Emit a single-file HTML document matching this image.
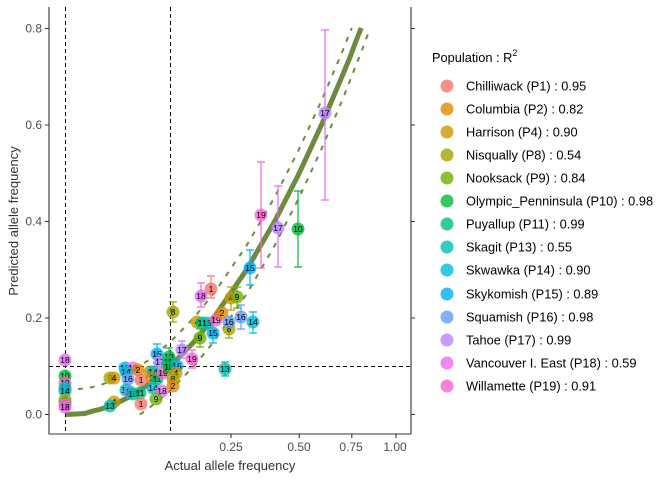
<!DOCTYPE html>
<html><head><meta charset="utf-8"><style>
body{margin:0;background:#fff;}
svg{display:block;font-family:"Liberation Sans",sans-serif;}
.pt circle{fill-opacity:.8;}
.pt text{font-size:8.5px;fill:#000;text-anchor:middle;dominant-baseline:central;}
.tk{font-size:12px;fill:#4d4d4d;}
.lg{font-size:12.8px;fill:#000;}
</style></head><body>
<svg width="672" height="480" viewBox="0 0 672 480">
<g stroke="#000" stroke-width="1" stroke-dasharray="4,3">
<line x1="65.5" y1="7" x2="65.5" y2="434"/>
<line x1="170.5" y1="7" x2="170.5" y2="434"/>
<line x1="49" y1="366.5" x2="411" y2="366.5"/>
</g>
<polyline fill="none" stroke="#6e8b3d" stroke-width="5" stroke-linejoin="round" points="66,414.5 76.4,414 84.8,413.5 89.3,412.1 94.3,410.6 99,409.7 106,407.4 112.7,404.8 118.2,402.4 123.2,400 128,397.6 132,395.2 139.8,390.3 146.8,385.5 159.3,375.9 170.4,366.2 193.8,342 213.6,317.9 246.7,269.6 274.7,221.3 299.3,173 321.6,124.6 342.1,76.3 350.5,56 356,41 361.2,28"/>
<g fill="none" stroke="#6e8b3d" stroke-width="2" stroke-dasharray="5,7">
<polyline points="66,390.3 89.3,387.9 99,385.5 112.7,380.6 132,371 146.8,361.3 170.4,342 193.8,317.8 213.6,293.7 246.7,245.4 274.7,197.1 299.3,148.8 321.6,100.4 342.1,52.1 351.8,28"/>
<polyline points="139.8,414.5 146.8,409.7 159.3,400 170.4,390.4 193.8,366.2 213.6,342.1 246.7,293.8 274.7,245.5 299.3,197.2 321.6,148.8 342.1,100.5 361.2,52.2 370.2,28"/>
</g>
<g stroke-width="1.2" fill="none">
<path stroke="#E76BF3" d="M325,30V200M321,30h8M321,200h8"/>
<path stroke="#FD61D1" d="M261,162V268M257,162h8M257,268h8"/>
<path stroke="#E76BF3" d="M278,186V267M274,186h8M274,267h8"/>
<path stroke="#00BA38" d="M298,191V267M294,191h8M294,267h8"/>
<path stroke="#00B0F6" d="M250,250V285M246,250h8M246,285h8"/>
<path stroke="#F8766D" d="M211,276V298M207,276h8M207,298h8"/>
<path stroke="#FD61D1" d="M201,283V307M197,283h8M197,307h8"/>
<path stroke="#A3A500" d="M173,302V322M169,302h8M169,322h8"/>
<path stroke="#C99800" d="M231,287V310M227,287h8M227,310h8"/>
<path stroke="#6BB100" d="M237,287V308M233,287h8M233,308h8"/>
<path stroke="#619CFF" d="M241,305V329M237,305h8M237,329h8"/>
<path stroke="#00BCD8" d="M253,312V333M249,312h8M249,333h8"/>
<path stroke="#A3A500" d="M229,320V338M225,320h8M225,338h8"/>
<path stroke="#00B0F6" d="M213,323V343M209,323h8M209,343h8"/>
<path stroke="#6BB100" d="M200,329V347M196,329h8M196,347h8"/>
<path stroke="#B983FF" d="M182,341V358M178,341h8M178,358h8"/>
<path stroke="#FD61D1" d="M192,350V368M188,350h8M188,368h8"/>
<path stroke="#00B0F6" d="M157,344V363M153,344h8M153,363h8"/>
<path stroke="#00BA38" d="M169,348V366M165,348h8M165,366h8"/>
<path stroke="#00C0AF" d="M225,362V376M221,362h8M221,376h8"/>
</g>
<g class="pt">
<g><circle cx="65" cy="360" r="6.5" fill="#E76BF3"/><text x="65" y="360">18</text></g>
<g><circle cx="65" cy="376" r="6.5" fill="#00BA38"/><text x="65" y="376">10</text></g>
<g><circle cx="65" cy="383" r="6.5" fill="#FD61D1"/><text x="65" y="383">19</text></g>
<g><circle cx="65" cy="388" r="6.5" fill="#00C0AF"/><text x="65" y="388">13</text></g>
<g><circle cx="65" cy="391" r="6.5" fill="#00BCD8"/><text x="65" y="391">14</text></g>
<g><circle cx="65" cy="400" r="6.5" fill="#A3A500"/><text x="65" y="400">8</text></g>
<g><circle cx="65" cy="403" r="6.5" fill="#6BB100"/><text x="65" y="403">9</text></g>
<g><circle cx="65" cy="405" r="6.5" fill="#FD61D1"/><text x="65" y="405">19</text></g>
<g><circle cx="65" cy="407" r="6.5" fill="#E76BF3"/><text x="65" y="407">18</text></g>
<g><circle cx="110" cy="378" r="6.5" fill="#A3A500"/><text x="110" y="378">9</text></g>
<g><circle cx="114" cy="378" r="6.5" fill="#C99800"/><text x="114" y="378">4</text></g>
<g><circle cx="114" cy="402" r="6.5" fill="#C99800"/><text x="114" y="402">4</text></g>
<g><circle cx="110" cy="406" r="6.5" fill="#00C0AF"/><text x="110" y="406">13</text></g>
<g><circle cx="125" cy="368" r="6.5" fill="#00B0F6"/><text x="125" y="368">15</text></g>
<g><circle cx="133" cy="368" r="6.5" fill="#E76BF3"/><text x="133" y="368">18</text></g>
<g><circle cx="138" cy="370" r="6.5" fill="#E58700"/><text x="138" y="370">2</text></g>
<g><circle cx="126" cy="372" r="6.5" fill="#00BCD8"/><text x="126" y="372">14</text></g>
<g><circle cx="128" cy="379" r="6.5" fill="#619CFF"/><text x="128" y="379">16</text></g>
<g><circle cx="141" cy="380" r="6.5" fill="#F8766D"/><text x="141" y="380">1</text></g>
<g><circle cx="126" cy="390" r="6.5" fill="#00C0AF"/><text x="126" y="390">13</text></g>
<g><circle cx="130" cy="392" r="6.5" fill="#619CFF"/><text x="130" y="392">16</text></g>
<g><circle cx="133" cy="394" r="6.5" fill="#00C0AF"/><text x="133" y="394">13</text></g>
<g><circle cx="140" cy="393" r="6.5" fill="#00BF7D"/><text x="140" y="393">11</text></g>
<g><circle cx="141" cy="404" r="6.5" fill="#F8766D"/><text x="141" y="404">1</text></g>
<g><circle cx="150" cy="372" r="6.5" fill="#C99800"/><text x="150" y="372">4</text></g>
<g><circle cx="153" cy="372" r="6.5" fill="#00BCD8"/><text x="153" y="372">14</text></g>
<g><circle cx="152" cy="378" r="6.5" fill="#E58700"/><text x="152" y="378">2</text></g>
<g><circle cx="157" cy="379" r="6.5" fill="#00BF7D"/><text x="157" y="379">11</text></g>
<g><circle cx="163" cy="373" r="6.5" fill="#FD61D1"/><text x="163" y="373">19</text></g>
<g><circle cx="157" cy="354" r="6.5" fill="#00B0F6"/><text x="157" y="354">15</text></g>
<g><circle cx="160" cy="362" r="6.5" fill="#B983FF"/><text x="160" y="362">17</text></g>
<g><circle cx="153" cy="388" r="6.5" fill="#00BCD8"/><text x="153" y="388">14</text></g>
<g><circle cx="162" cy="391" r="6.5" fill="#E76BF3"/><text x="162" y="391">18</text></g>
<g><circle cx="156" cy="399" r="6.5" fill="#6BB100"/><text x="156" y="399">9</text></g>
<g><circle cx="169" cy="357" r="6.5" fill="#00BA38"/><text x="169" y="357">19</text></g>
<g><circle cx="168" cy="362" r="6.5" fill="#00BF7D"/><text x="168" y="362">11</text></g>
<g><circle cx="169" cy="367" r="6.5" fill="#00BA38"/><text x="169" y="367">10</text></g>
<g><circle cx="177" cy="366" r="6.5" fill="#00B0F6"/><text x="177" y="366">15</text></g>
<g><circle cx="176" cy="373" r="6.5" fill="#C99800"/><text x="176" y="373">4</text></g>
<g><circle cx="173" cy="379" r="6.5" fill="#A3A500"/><text x="173" y="379">8</text></g>
<g><circle cx="173" cy="386" r="6.5" fill="#E58700"/><text x="173" y="386">2</text></g>
<g><circle cx="182" cy="350" r="6.5" fill="#B983FF"/><text x="182" y="350">17</text></g>
<g><circle cx="192" cy="359" r="6.5" fill="#FD61D1"/><text x="192" y="359">19</text></g>
<g><circle cx="225" cy="369" r="6.5" fill="#00C0AF"/><text x="225" y="369">13</text></g>
<g><circle cx="173" cy="312" r="6.5" fill="#A3A500"/><text x="173" y="312">8</text></g>
<g><circle cx="201" cy="296" r="6.5" fill="#E76BF3"/><text x="201" y="296">18</text></g>
<g><circle cx="211" cy="289" r="6.5" fill="#F8766D"/><text x="211" y="289">1</text></g>
<g><circle cx="231" cy="298" r="6.5" fill="#C99800"/><text x="231" y="298">4</text></g>
<g><circle cx="237" cy="297" r="6.5" fill="#6BB100"/><text x="237" y="297">9</text></g>
<g><circle cx="197" cy="322" r="6.5" fill="#C99800"/><text x="197" y="322">4</text></g>
<g><circle cx="202" cy="323" r="6.5" fill="#00BF7D"/><text x="202" y="323">11</text></g>
<g><circle cx="207" cy="323" r="6.5" fill="#00C0AF"/><text x="207" y="323">13</text></g>
<g><circle cx="216" cy="320" r="6.5" fill="#FD61D1"/><text x="216" y="320">19</text></g>
<g><circle cx="222" cy="313" r="6.5" fill="#E58700"/><text x="222" y="313">2</text></g>
<g><circle cx="229" cy="329" r="6.5" fill="#A3A500"/><text x="229" y="329">8</text></g>
<g><circle cx="229" cy="322" r="6.5" fill="#619CFF"/><text x="229" y="322">16</text></g>
<g><circle cx="241" cy="317" r="6.5" fill="#619CFF"/><text x="241" y="317">16</text></g>
<g><circle cx="253" cy="322" r="6.5" fill="#00BCD8"/><text x="253" y="322">14</text></g>
<g><circle cx="213" cy="333" r="6.5" fill="#00B0F6"/><text x="213" y="333">15</text></g>
<g><circle cx="200" cy="338" r="6.5" fill="#6BB100"/><text x="200" y="338">9</text></g>
<g><circle cx="250" cy="268" r="6.5" fill="#00B0F6"/><text x="250" y="268">15</text></g>
<g><circle cx="261" cy="215" r="6.5" fill="#FD61D1"/><text x="261" y="215">19</text></g>
<g><circle cx="278" cy="228" r="6.5" fill="#B983FF"/><text x="278" y="228">17</text></g>
<g><circle cx="298" cy="229" r="6.5" fill="#00BA38"/><text x="298" y="229">10</text></g>
<g><circle cx="325" cy="113" r="6.5" fill="#B983FF"/><text x="325" y="113">17</text></g>
</g>
<g stroke="#333" stroke-width="1.1" fill="none">
<path d="M49,7V434H411"/>
<path d="M411,7V434"/>
<path d="M45,28.5h4M45,125h4M45,221.5h4M45,318h4M45,414.5h4"/>
<path d="M411,28.5h4M411,125h4M411,221.5h4M411,318h4M411,414.5h4"/>
<path d="M231,434v4M299.3,434v4M351.8,434v4M396,434v4"/>
</g>
<g class="tk" text-anchor="end">
<text x="42" y="32.5">0.8</text><text x="42" y="129">0.6</text><text x="42" y="225.5">0.4</text><text x="42" y="322">0.2</text><text x="42" y="418.5">0.0</text>
</g>
<g class="tk" text-anchor="middle">
<text x="231" y="451">0.25</text><text x="299" y="451">0.50</text><text x="351" y="451">0.75</text><text x="395" y="451">1.00</text>
</g>
<text x="230" y="470" text-anchor="middle" style="font-size:13px;fill:#333">Actual allele frequency</text>
<text transform="translate(18,221) rotate(-90)" text-anchor="middle" style="font-size:13px;fill:#333">Predicted allele frequency</text>
<text x="432" y="62" class="lg">Population : R<tspan dy="-6" style="font-size:9px">2</tspan></text>
<g class="lg">
<circle cx="447" cy="86" r="6.5" fill="#F8766D" fill-opacity=".8"/><text x="466" y="90.5">Chilliwack (P1) : 0.95</text>
<circle cx="447" cy="109" r="6.5" fill="#E58700" fill-opacity=".8"/><text x="466" y="113.5">Columbia (P2) : 0.82</text>
<circle cx="447" cy="132" r="6.5" fill="#C99800" fill-opacity=".8"/><text x="466" y="136.5">Harrison (P4) : 0.90</text>
<circle cx="447" cy="155" r="6.5" fill="#A3A500" fill-opacity=".8"/><text x="466" y="159.5">Nisqually (P8) : 0.54</text>
<circle cx="447" cy="178" r="6.5" fill="#6BB100" fill-opacity=".8"/><text x="466" y="182.5">Nooksack (P9) : 0.84</text>
<circle cx="447" cy="201" r="6.5" fill="#00BA38" fill-opacity=".8"/><text x="466" y="205.5">Olympic_Penninsula (P10) : 0.98</text>
<circle cx="447" cy="224" r="6.5" fill="#00BF7D" fill-opacity=".8"/><text x="466" y="228.5">Puyallup (P11) : 0.99</text>
<circle cx="447" cy="247" r="6.5" fill="#00C0AF" fill-opacity=".8"/><text x="466" y="251.5">Skagit (P13) : 0.55</text>
<circle cx="447" cy="270" r="6.5" fill="#00BCD8" fill-opacity=".8"/><text x="466" y="274.5">Skwawka (P14) : 0.90</text>
<circle cx="447" cy="294" r="6.5" fill="#00B0F6" fill-opacity=".8"/><text x="466" y="298.5">Skykomish (P15) : 0.89</text>
<circle cx="447" cy="317" r="6.5" fill="#619CFF" fill-opacity=".8"/><text x="466" y="321.5">Squamish (P16) : 0.98</text>
<circle cx="447" cy="340" r="6.5" fill="#B983FF" fill-opacity=".8"/><text x="466" y="344.5">Tahoe (P17) : 0.99</text>
<circle cx="447" cy="363" r="6.5" fill="#E76BF3" fill-opacity=".8"/><text x="466" y="367.5">Vancouver I. East (P18) : 0.59</text>
<circle cx="447" cy="386" r="6.5" fill="#FD61D1" fill-opacity=".8"/><text x="466" y="390.5">Willamette (P19) : 0.91</text>
</g>
</svg>
</body></html>
